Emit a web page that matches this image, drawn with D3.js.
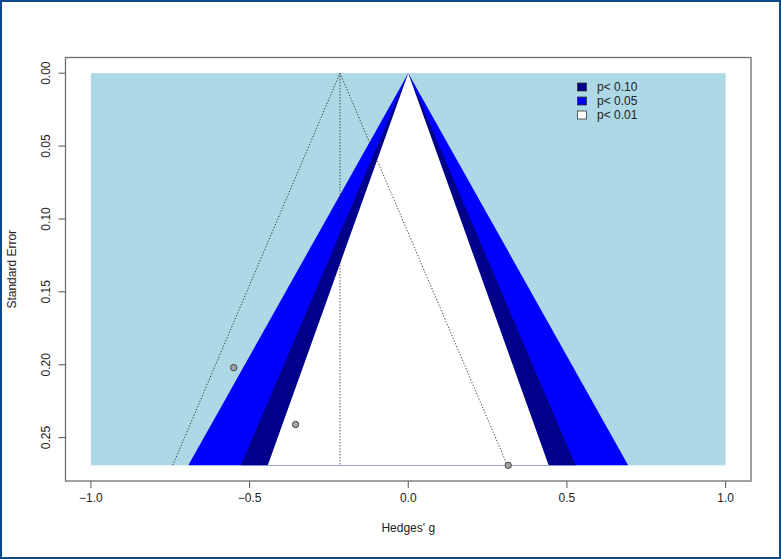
<!DOCTYPE html>
<html><head><meta charset="utf-8">
<script src="https://cdn.jsdelivr.net/npm/d3@7"></script>
<style>body{margin:0;background:#fff}svg{display:block}text{font-family:Arial,"Liberation Sans",sans-serif}</style>
</head><body>
<script>
// Data
const studyEffects = [-0.55, -0.355, 0.315];
const studySE = [0.202, 0.241, 0.269];
const pooledEstimate = -0.215;
const seMax = 0.269;
const contourLabels = ["p< 0.10", "p< 0.05", "p< 0.01"];
const contourZ = [1.645, 1.96, 2.576];
const contourColors = ["#00008b", "#0000ff", "#add8e6"];
const xTicks = [-1.0, -0.5, 0.0, 0.5, 1.0];
const yTicks = [0.00, 0.05, 0.10, 0.15, 0.20, 0.25];

(function () {
const W = 781, H = 559;
const svg = d3.select("body").append("svg").attr("width", W).attr("height", H);
svg.append("rect").attr("x", 1).attr("y", 1).attr("width", W - 2).attr("height", H - 2)
  .attr("fill", "#fff").attr("stroke", "#0d4a8c").attr("stroke-width", 2);

const pL = 65.5, pR = 751, pT = 57.5, pB = 481;
const xPad = 0.04 * 2, yPad = 0.04 * seMax;
const x = d3.scaleLinear().domain([-1 - xPad, 1 + xPad]).range([pL, pR]);
const y = d3.scaleLinear().domain([-yPad, seMax + yPad]).range([pT, pB]);

// background (p<0.01 region)
svg.append("rect").attr("x", x(-1)).attr("y", y(0)).attr("width", x(1) - x(-1)).attr("height", y(seMax) - y(0))
  .attr("fill", contourColors[2]);

const line = d3.line().x(d => x(d[0])).y(d => y(d[1]));
const fills = [[contourZ[2], contourColors[1]], [contourZ[1], contourColors[0]], [contourZ[0], "#ffffff"]];
fills.forEach(([z, c]) => {
  svg.append("path").attr("d", line([[0, 0], [-z * seMax, seMax], [z * seMax, seMax]]) + "Z").attr("fill", c);
});

// pseudo confidence funnel
const dotted = {fill: "none", stroke: "#222", "stroke-width": 0.9, "stroke-dasharray": "1.2,1.8"};
const p1 = svg.append("path").attr("d", line([[pooledEstimate - 1.96 * seMax, seMax], [pooledEstimate, 0], [pooledEstimate + 1.96 * seMax, seMax]]));
const p2 = svg.append("path").attr("d", line([[pooledEstimate, 0], [pooledEstimate, seMax]]));
[p1, p2].forEach(p => Object.entries(dotted).forEach(([k, v]) => p.attr(k, v)));

// points
svg.selectAll("circle.pt").data(studyEffects).enter().append("circle")
  .attr("cx", d => x(d)).attr("cy", (d, i) => y(studySE[i])).attr("r", 3.2)
  .attr("fill", "#a3a3a3").attr("stroke", "#444").attr("stroke-width", 1);

// box
svg.append("rect").attr("x", pL).attr("y", pT).attr("width", pR - pL).attr("height", pB - pT)
  .attr("fill", "none").attr("stroke", "#6e6e6e").attr("stroke-width", 1.3);

// x axis
const xa = svg.append("g");
xTicks.forEach(t => {
  xa.append("line").attr("x1", x(t)).attr("x2", x(t)).attr("y1", pB).attr("y2", pB + 7).attr("stroke", "#555");
  xa.append("text").attr("x", x(t)).attr("y", pB + 21).attr("text-anchor", "middle")
    .attr("font-size", 12).attr("fill", "#222").text(d3.format(".1f")(t));
});
svg.append("text").attr("x", x(0)).attr("y", 532).attr("text-anchor", "middle").attr("font-size", 12).attr("fill", "#222").text("Hedges' g");

// y axis
const ya = svg.append("g");
yTicks.forEach(t => {
  ya.append("line").attr("x1", pL - 7).attr("x2", pL).attr("y1", y(t)).attr("y2", y(t)).attr("stroke", "#555");
  ya.append("text").attr("transform", `translate(${pL - 16},${y(t)}) rotate(-90)`).attr("text-anchor", "middle")
    .attr("font-size", 12).attr("fill", "#222").text(d3.format(".2f")(t));
});
svg.append("text").attr("transform", `translate(16,${(pT + pB) / 2}) rotate(-90)`).attr("text-anchor", "middle")
  .attr("font-size", 12).attr("fill", "#222").text("Standard Error");

// legend
const legCols = [contourColors[0], contourColors[1], "#ffffff"];
contourLabels.forEach((lab, i) => {
  const cy = 87 + i * 14;
  svg.append("rect").attr("x", 577.5).attr("y", cy - 4).attr("width", 9).attr("height", 8)
    .attr("fill", legCols[i]).attr("stroke", "#333").attr("stroke-width", 0.8);
  svg.append("text").attr("x", 597).attr("y", cy + 4).attr("font-size", 12).attr("fill", "#222").text(lab);
});
})();
</script>
</body></html>
